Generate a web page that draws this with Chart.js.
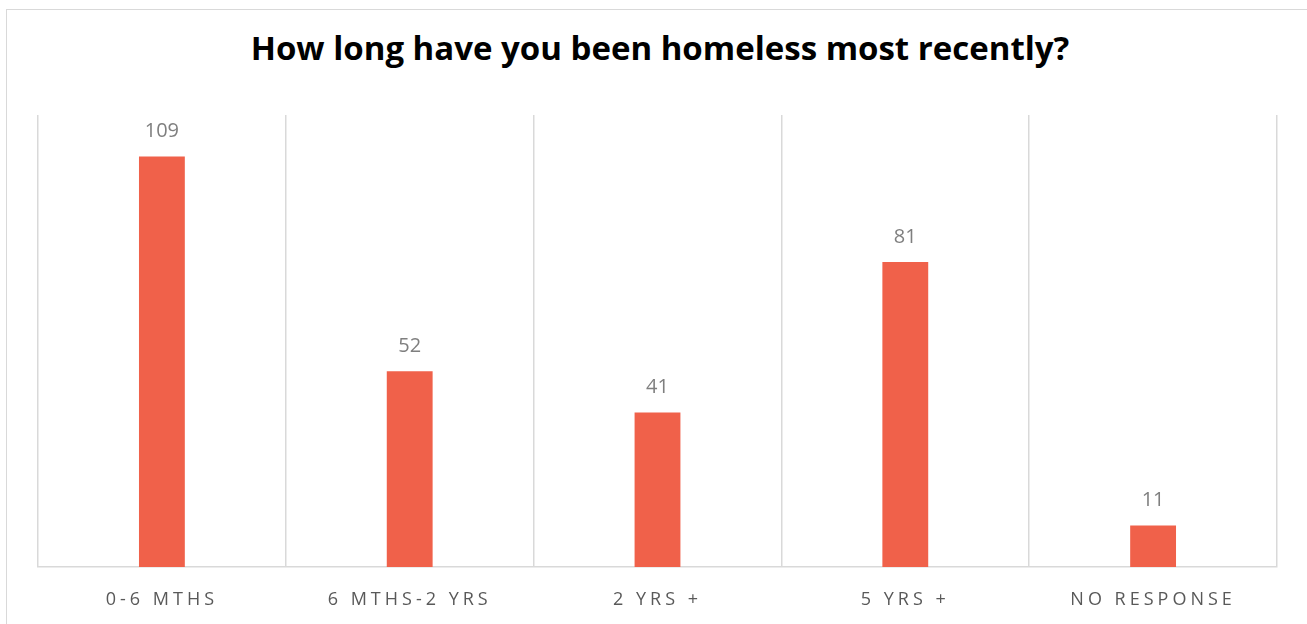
<!DOCTYPE html>
<html>
<head>
<meta charset="utf-8">
<script src="https://cdn.jsdelivr.net/npm/chart.js@4/dist/chart.umd.min.js"></script>
<style>
  html, body { margin: 0; padding: 0; background: #fff; }
  #wrap { position: relative; width: 1307px; height: 624px; overflow: hidden; }
  #frame { position: absolute; left: 6px; top: 9px; width: 1400px; height: 700px; border: 1px solid #d9d9d9; box-sizing: border-box; }
  #title { position: absolute; left: 0; top: 25px; width: 1320px; text-align: center;
           font: bold 33px "Open Sans", sans-serif; color: #000; }
  canvas { position: absolute; left: 0; top: 0; }
</style>
</head>
<body>
<div id="wrap">
  <div id="frame"></div>
  <div id="title">How long have you been homeless most recently?</div>
  <canvas id="durationChart" width="1307" height="624"></canvas>
</div>
<script>
const categories = ['0-6 MTHS', '6 MTHS-2 YRS', '2 YRS +', '5 YRS +', 'NO RESPONSE'];
const counts = [109, 52, 41, 81, 11];
const yMax = 120;

// spaced-out tick text for the category axis
const spacedTicks = {
    id: 'spacedTicks',
    beforeDraw(chart) { chart.ctx.letterSpacing = '4px'; }
};

// value printed above each bar
const barValues = {
    id: 'barValues',
    afterDatasetsDraw(chart) {
        const ctx = chart.ctx;
        ctx.save();
        ctx.letterSpacing = '0px';
        ctx.font = '20px "Open Sans", sans-serif';
        ctx.fillStyle = '#7f7f7f';
        ctx.textAlign = 'center';
        ctx.textBaseline = 'bottom';
        chart.getDatasetMeta(0).data.forEach((bar, i) => {
            ctx.fillText(counts[i], bar.x, bar.y - 15);
        });
        ctx.restore();
    }
};

new Chart(document.getElementById('durationChart'), {
    type: 'bar',
    data: {
        labels: categories,
        datasets: [{ data: counts, backgroundColor: '#f0614a', categoryPercentage: 1, barPercentage: 0.185 }]
    },
    options: {
        responsive: false,
        animation: false,
        layout: { padding: { left: 38, right: 30, top: 115, bottom: 0 } },
        plugins: { legend: { display: false }, tooltip: { enabled: false } },
        scales: {
            x: {
                grid: { color: '#d9d9d9', lineWidth: 1.5, drawTicks: false, offset: true },
                border: { color: '#d9d9d9', width: 1.5 },
                ticks: { color: '#595959', padding: 22, font: { family: 'Open Sans', size: 18 } },
                afterFit(scale) { scale.height = 57; }
            },
            y: { display: false, min: 0, max: yMax }
        }
    },
    plugins: [spacedTicks, barValues]
});
</script>
</body>
</html>
